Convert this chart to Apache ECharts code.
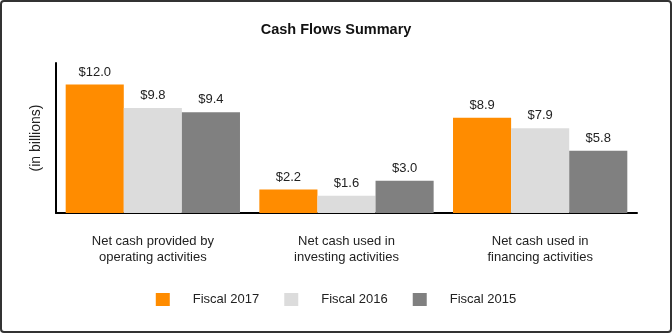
<!DOCTYPE html>
<html>
<head>
<meta charset="utf-8">
<script src="https://cdn.jsdelivr.net/npm/echarts@6/dist/echarts.min.js"></script>
<style>
  html, body { margin: 0; padding: 0; background: #fff; }
  #chart { width: 672px; height: 333px; }
</style>
</head>
<body>
<div id="chart"></div>
<script>
// Cash flow categories and yearly amounts (in billions of dollars)
var categories = [
  'Net cash provided by\noperating activities',
  'Net cash used in\ninvesting activities',
  'Net cash used in\nfinancing activities'
];
var fiscal2017 = [12.0, 2.2, 8.9];
var fiscal2016 = [9.8, 1.6, 7.9];
var fiscal2015 = [9.4, 3.0, 5.8];
var seriesNames = ['Fiscal 2017', 'Fiscal 2016', 'Fiscal 2015'];
var seriesColors = ['#FF8C00', '#DCDCDC', '#808080'];

var font = 'Arial, "Liberation Sans", sans-serif';
var chart = echarts.init(document.getElementById('chart'), null, { renderer: 'canvas' });

function makeSeries(name, data, color) {
  return {
    name: name,
    type: 'bar',
    data: data,
    barGap: '0%',
    barCategoryGap: '10%',
    itemStyle: { color: color },
    label: {
      show: true,
      position: 'top',
      distance: 6,
      fontFamily: font,
      fontSize: 13,
      color: '#222',
      formatter: function (p) { return '$' + p.value.toFixed(1); }
    }
  };
}

chart.setOption({
  animation: false,
  backgroundColor: '#fff',
  title: {
    text: 'Cash Flows Summary',
    left: 'center',
    top: 17,
    textStyle: { fontFamily: font, fontSize: 14.5, fontWeight: 'bold', color: '#111' }
  },
  graphic: [{
    type: 'rect',
    shape: { x: 1, y: 1, width: 670, height: 331, r: 3 },
    style: { fill: 'none', stroke: '#333', lineWidth: 2 },
    silent: true,
    z: 100
  }],
  legend: {
    data: seriesNames,
    left: 'center',
    top: 288,
    itemWidth: 14,
    itemHeight: 13,
    itemGap: 25,
    icon: 'rect',
    textStyle: { fontFamily: font, fontSize: 13, color: '#222', padding: [0, 0, 0, 18] }
  },
  grid: { left: 56, right: 35, top: 63, bottom: 120 },
  xAxis: {
    type: 'category',
    data: categories,
    axisLine: { lineStyle: { color: '#000', width: 2 } },
    axisTick: { alignWithLabel: true, length: 5, lineStyle: { color: '#444' } },
    axisLabel: { fontFamily: font, fontSize: 13, color: '#222', lineHeight: 16, margin: 20 }
  },
  yAxis: {
    type: 'value',
    min: 0,
    max: 14,
    interval: 2,
    name: '(in billions)',
    nameLocation: 'middle',
    nameGap: 13,
    nameTextStyle: { fontFamily: font, fontSize: 14, color: '#222' },
    axisLine: { show: true, lineStyle: { color: '#000', width: 2 } },
    axisTick: { show: false },
    axisLabel: { show: false },
    splitLine: { show: false }
  },
  series: [
    makeSeries(seriesNames[0], fiscal2017, seriesColors[0]),
    makeSeries(seriesNames[1], fiscal2016, seriesColors[1]),
    makeSeries(seriesNames[2], fiscal2015, seriesColors[2])
  ]
});
</script>
</body>
</html>
